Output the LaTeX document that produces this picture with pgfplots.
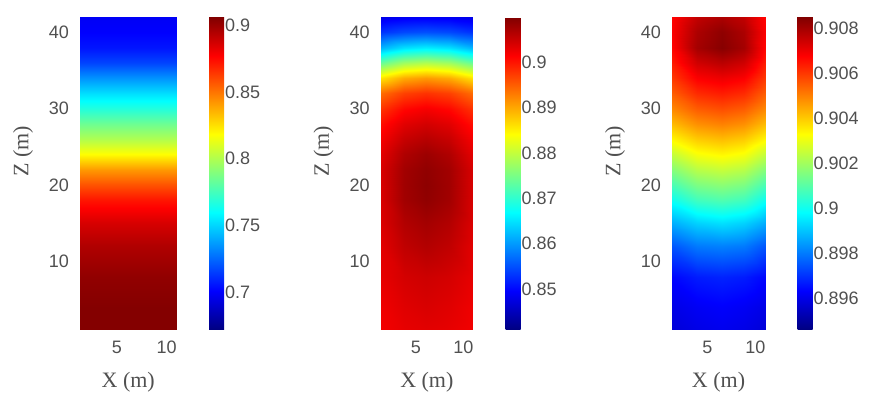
\documentclass[border=0pt]{standalone}
\usepackage{fontspec}
\setmainfont{Liberation Sans}
\newfontfamily\labelfont{Liberation Serif}
\usepackage{pgfplots}
\pgfplotsset{compat=1.18}
\definecolor{txt}{HTML}{505050}
\pgfplotsset{
  panel/.style={
    scale only axis, height=156.5pt,
    colormap/jet, colorbar,
    xmin=1.3, xmax=11, ymin=1, ymax=42,
    axis line style={draw=none}, tick style={draw=none},
    xtick={5,10}, xticklabels={5,10},
    ytick={10,20,30,40}, yticklabels={10,20,30,40},
    ticklabel style={font=\fontsize{9}{10}\selectfont, text=txt},
    xticklabel style={yshift=-2pt}, yticklabel style={xshift=-2pt},
    xlabel={X (m)}, ylabel={Z (m)},
    label style={font=\labelfont\fontsize{11}{12}\selectfont, text=txt},
    xlabel style={at={([yshift=-26pt]axis description cs:0.5,0)}, anchor=center},
    ylabel style={at={([xshift=-28.5pt]axis description cs:0,0.57)}, anchor=center},
  },
  cbar/.style={
    width=7.5pt,
    at={([xshift=16pt]parent axis.north east)}, anchor=north west, xshift=7.75pt,
    axis line style={draw=none}, tick style={draw=none},
    yticklabel style={font=\fontsize{9}{10}\selectfont, text=txt, xshift=-3pt},
  },
}
\begin{document}
\begin{tikzpicture}
\useasboundingbox (0,0) rectangle (434.5pt,197pt);
% Panel 1
\begin{axis}[panel, width=48.25pt, at={(40pt,32pt)}, anchor=south west,
  point meta min=0.672, point meta max=0.906,
  colorbar style={cbar, ytick={0.7,0.75,0.8,0.85,0.9}, yticklabels={0.7,0.75,0.8,0.85,0.9}}]
\addplot[surf, shader=interp, mesh/cols=2, point meta=explicit] table[meta=c] {
x y c
1.3 1 0.905
11 1 0.905
1.3 4 0.905
11 4 0.905
1.3 8 0.902
11 8 0.902
1.3 12 0.895
11 12 0.895
1.3 15 0.886
11 15 0.886
1.3 18 0.872
11 18 0.872
1.3 20 0.858
11 20 0.858
1.3 22 0.842
11 22 0.842
1.3 24 0.818
11 24 0.818
1.3 26 0.800
11 26 0.800
1.3 28 0.785
11 28 0.785
1.3 30 0.768
11 30 0.768
1.3 32 0.752
11 32 0.752
1.3 34 0.735
11 34 0.735
1.3 36 0.717
11 36 0.717
1.3 38 0.706
11 38 0.706
1.3 40 0.701
11 40 0.701
1.3 42 0.699
11 42 0.699
};
\end{axis}
% Panel 2
\begin{axis}[panel, width=46.15pt, at={(190.35pt,32pt)}, anchor=south west,
  point meta min=0.841, point meta max=0.910,
  colorbar style={cbar, ytick={0.85,0.86,0.87,0.88,0.89,0.9}, yticklabels={0.85,0.86,0.87,0.88,0.89,0.9}}]
\addplot[surf, shader=interp, mesh/cols=5, point meta=explicit] table[meta=c] {
x y c
1.3 1 .9022
3.7 1 .9030
6.1 1 .9033
8.5 1 .9030
11 1 .9022
1.3 4 .9024
3.7 4 .9035
6.1 4 .9040
8.5 4 .9035
11 4 .9024
1.3 8 .9030
3.7 8 .9043
6.1 8 .9048
8.5 8 .9043
11 8 .9030
1.3 12 .9033
3.7 12 .9057
6.1 12 .9066
8.5 12 .9057
11 12 .9033
1.3 15 .9038
3.7 15 .9066
6.1 15 .9076
8.5 15 .9066
11 15 .9038
1.3 18 .9040
3.7 18 .9077
6.1 18 .9089
8.5 18 .9077
11 18 .9040
1.3 20 .9040
3.7 20 .9078
6.1 20 .9091
8.5 20 .9078
11 20 .9040
1.3 22 .9040
3.7 22 .9077
6.1 22 .9089
8.5 22 .9077
11 22 .9040
1.3 24 .9032
3.7 24 .9068
6.1 24 .9081
8.5 24 .9068
11 24 .9032
1.3 26 .9020
3.7 26 .9052
6.1 26 .9063
8.5 26 .9052
11 26 .9020
1.3 28 .9005
3.7 28 .9034
6.1 28 .9044
8.5 28 .9034
11 28 .9005
1.3 30 .898
3.7 30 .901
6.1 30 .902
8.5 30 .901
11 30 .898
1.3 32 .894
3.7 32 .897
6.1 32 .898
8.5 32 .897
11 32 .894
1.3 34 .886
3.7 34 .8898
6.1 34 .891
8.5 34 .8898
11 34 .886
1.3 36 .874
3.7 36 .8778
6.1 36 .879
8.5 36 .8778
11 36 .874
1.3 38 .862
3.7 38 .865
6.1 38 .866
8.5 38 .865
11 38 .862
1.3 40 .853
3.7 40 .8545
6.1 40 .855
8.5 40 .8545
11 40 .853
1.3 42 .848
3.7 42 .8488
6.1 42 .849
8.5 42 .8488
11 42 .848
};
\end{axis}
% Panel 3
\begin{axis}[panel, width=46.5pt, at={(336pt,32pt)}, anchor=south west,
  point meta min=0.8946, point meta max=0.9085,
  colorbar style={cbar, ytick={0.896,0.898,0.9,0.902,0.904,0.906,0.908}, yticklabels={0.896,0.898,0.9,0.902,0.904,0.906,0.908}}]
\addplot[surf, shader=interp, mesh/cols=5, point meta=explicit] table[meta=c] {
x y c
1.3 1 .8958
3.9 1 .8960
6.5 1 .8961
8.8 1 .8960
11 1 .8958
1.3 4 .8960
3.9 4 .8962
6.5 4 .8963
8.8 4 .8962
11 4 .8960
1.3 8 .8964
3.9 8 .8967
6.5 8 .8968
8.8 8 .8967
11 8 .8964
1.3 12 .8975
3.9 12 .8980
6.5 12 .8981
8.8 12 .8980
11 12 .8975
1.3 15 .8987
3.9 15 .8992
6.5 15 .8994
8.8 15 .8992
11 15 .8987
1.3 18 .9000
3.9 18 .9007
6.5 18 .9009
8.8 18 .9007
11 18 .9000
1.3 20 .9008
3.9 20 .9015
6.5 20 .9017
8.8 20 .9015
11 20 .9008
1.3 22 .9016
3.9 22 .9023
6.5 22 .9025
8.8 22 .9023
11 22 .9016
1.3 24 .9025
3.9 24 .9032
6.5 24 .9034
8.8 24 .9032
11 24 .9025
1.3 26 .9034
3.9 26 .9040
6.5 26 .9042
8.8 26 .9040
11 26 .9034
1.3 28 .9042
3.9 28 .9048
6.5 28 .9050
8.8 28 .9048
11 28 .9042
1.3 30 .9049
3.9 30 .9055
6.5 30 .9057
8.8 30 .9055
11 30 .9049
1.3 32 .9055
3.9 32 .9062
6.5 32 .9064
8.8 32 .9062
11 32 .9055
1.3 34 .9060
3.9 34 .9068
6.5 34 .9070
8.8 34 .9068
11 34 .9060
1.3 36 .9064
3.9 36 .9074
6.5 36 .9077
8.8 36 .9074
11 36 .9064
1.3 38 .9067
3.9 38 .9080
6.5 38 .9084
8.8 38 .9080
11 38 .9067
1.3 40 .9068
3.9 40 .9079
6.5 40 .9083
8.8 40 .9079
11 40 .9068
1.3 42 .9067
3.9 42 .9076
6.5 42 .9079
8.8 42 .9076
11 42 .9067
};
\end{axis}
\end{tikzpicture}
\end{document}
